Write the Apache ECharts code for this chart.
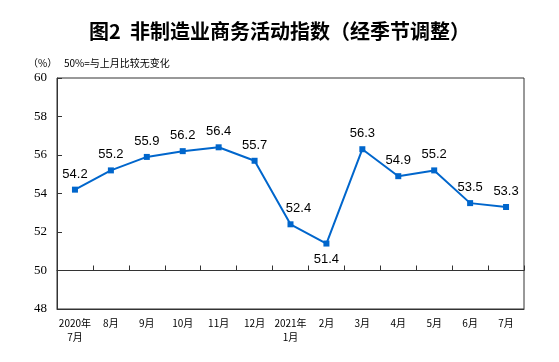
<!DOCTYPE html>
<html><head><meta charset="utf-8">
<script src="https://cdn.jsdelivr.net/npm/echarts@6/dist/echarts.min.js"></script>
<style>html,body{margin:0;padding:0;background:#fff}#c{width:559px;height:362px}</style>
</head><body><div id="c"></div>
<script>
const categories = ['2020年\n7月','8月','9月','10月','11月','12月','2021年\n1月','2月','3月','4月','5月','6月','7月'];
const values = [54.2, 55.2, 55.9, 56.2, 56.4, 55.7, 52.4, 51.4, 56.3, 54.9, 55.2, 53.5, 53.3];
const yTicks = [48, 50, 52, 54, 56, 58, 60];

const labelTweaks = {6: {offset: [8, 0]}, 7: {position: 'bottom', distance: 6}};
const seriesData = values.map((v, i) => {
  const t = labelTweaks[i];
  return t ? {value: v, label: Object.assign({}, t)} : v;
});

const chart = echarts.init(document.getElementById('c'), null, {renderer: 'canvas'});
const gTop = 78, gBottomPx = 309, gLeft = 57, gRight = 524;
const yMin = yTicks[0], yMax = yTicks[yTicks.length - 1];
const y50px = gBottomPx - (50 - yMin) / (yMax - yMin) * (gBottomPx - gTop);
chart.setOption({
  animation: false,
  title: [{
    text: '图2  非制造业商务活动指数（经季节调整）',
    left: 'center', top: 16,
    textStyle: {fontFamily: 'Noto Sans CJK SC', fontSize: 20, fontWeight: 'bold', color: '#000'}
  }],
  graphic: [
    {type: 'text', left: 28, top: 58, style: {text: '（%）', font: '10px "Noto Sans CJK SC"', fill: '#000'}},
    {type: 'text', left: 64, top: 58, style: {text: '50%=与上月比较无变化', font: '10px "Noto Sans CJK SC"', fill: '#000'}}
  ],
  grid: [
    {left: gLeft, top: gTop, width: gRight - gLeft, height: gBottomPx - gTop, show: true, borderColor: '#333', borderWidth: 1},
    {left: gLeft, top: gTop, width: gRight - gLeft, height: y50px - gTop, show: false}
  ],
  xAxis: [
    {type: 'category', gridIndex: 0, data: categories, boundaryGap: true,
     axisLine: {show: true, lineStyle: {color: '#333'}}, axisTick: {show: false},
     axisLabel: {interval: 0, fontFamily: 'Noto Sans CJK SC', fontSize: 10, color: '#000', margin: 7, lineHeight: 14}},
    {type: 'category', gridIndex: 1, data: categories, boundaryGap: true,
     axisLine: {show: true, lineStyle: {color: '#333'}},
     axisTick: {show: true, inside: true, length: 5, interval: 0, lineStyle: {color: '#333'}},
     axisLabel: {show: false}}
  ],
  yAxis: [
    {type: 'value', gridIndex: 0, min: yMin, max: yMax, interval: 2,
     axisLine: {show: true, lineStyle: {color: '#333'}},
     axisTick: {show: true, inside: true, length: 5, lineStyle: {color: '#333'}},
     splitLine: {show: false},
     axisLabel: {fontFamily: 'Liberation Serif', fontSize: 13, color: '#000', margin: 10}},
    {type: 'value', gridIndex: 1, min: 50, max: 60, show: false}
  ],
  series: [{
    type: 'line', xAxisIndex: 0, yAxisIndex: 0, data: seriesData,
    symbol: 'rect', symbolSize: 6,
    lineStyle: {color: '#0066cc', width: 2},
    itemStyle: {color: '#0066cc'},
    label: {show: true, position: 'top', distance: 6, fontFamily: 'Liberation Sans', fontSize: 13, color: '#000'}
  }]
});
</script></body></html>
